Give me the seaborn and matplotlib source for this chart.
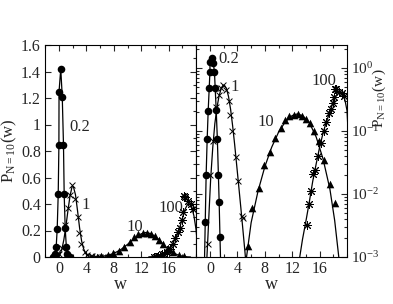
import numpy as np
import pandas as pd
import matplotlib
matplotlib.use("Agg")
import matplotlib.pyplot as plt
from matplotlib.ticker import MultipleLocator, FuncFormatter, LogLocator, LogFormatterMathtext, NullFormatter
import seaborn as sns

# ---------------- data ----------------
# series "0.2" (filled circles, joined by a line)
w_02 = [-0.87, -0.70, -0.57, -0.42, -0.27, -0.12, -0.02, 0.00, 0.25, 0.47, 0.65, 0.75, 0.90, 1.07, 1.22, 1.33, 1.45, 1.62]
p_02 = [0.0004, 0.0036, 0.020, 0.073, 0.21, 0.475, 0.845, 1.247, 1.42, 1.21, 0.845, 0.475, 0.216, 0.073, 0.020, 0.0075, 0.0021, 0.0004]

# series "1" (crosses) and its curve
w_1 = [-0.30, 0.00, 0.40, 0.85, 1.25, 1.60, 1.95, 2.40, 2.70, 2.90, 3.25, 3.75, 4.15, 4.65, 4.85, 5.40, 6.00, 6.60, 7.20, 7.80]
p_1 = [0.0016, 0.020, 0.068, 0.24, 0.37, 0.47, 0.54, 0.44, 0.30, 0.18, 0.10, 0.038, 0.016, 0.0045, 0.0042, 0.0008, 0.0003, 0.0001, 0.00005, 0.00002]
wc_1 = [-0.7, -0.5, -0.3, -0.1, 0.1, 0.4, 0.7, 1.0, 1.3, 1.6, 1.9, 2.1, 2.4, 2.7, 3.0, 3.3, 3.6, 3.9, 4.2, 4.5, 4.8, 5.1, 5.4, 5.8]
pc_1 = [0.0003, 0.0008, 0.0022, 0.0065, 0.018, 0.055, 0.13, 0.23, 0.35, 0.46, 0.53, 0.53, 0.47, 0.35, 0.22, 0.12, 0.06, 0.028, 0.013, 0.006, 0.0027, 0.0012, 0.0005, 0.00015]

# series "10" (triangles) and its curve
w_10 = [5.5, 6.2, 7.2, 7.9, 8.7, 9.5, 10.3, 11.0, 11.6, 12.2, 12.8, 13.4, 14.0, 14.6, 15.2, 15.9, 16.7, 17.5, 18.3]
p_10 = [0.0015, 0.0059, 0.0124, 0.029, 0.047, 0.077, 0.112, 0.148, 0.170, 0.180, 0.184, 0.174, 0.155, 0.132, 0.100, 0.070, 0.034, 0.0145, 0.0072]
wc_10 = [5.0, 5.33, 6.0, 7.0, 8.0, 9.0, 10.0, 11.0, 12.0, 12.7, 13.5, 14.5, 15.5, 16.5, 17.5, 18.2, 18.8, 19.2]
pc_10 = [0.0005, 0.001, 0.0035, 0.011, 0.027, 0.055, 0.095, 0.14, 0.175, 0.185, 0.175, 0.135, 0.08, 0.036, 0.012, 0.0038, 0.001, 0.0003]

# series "100" (stars) and its curve
w_100 = [13.8, 14.1, 14.4, 14.7, 15.1, 15.4, 15.8, 16.2, 16.6, 17.0, 17.4, 17.7, 17.9, 18.1, 18.25, 18.45, 18.9, 19.3, 19.6]
p_100 = [0.0008, 0.0032, 0.0068, 0.011, 0.021, 0.024, 0.040, 0.064, 0.10, 0.14, 0.19, 0.22, 0.28, 0.34, 0.46, 0.455, 0.42, 0.40, 0.36]
wc_100 = [13.1, 13.5, 14.0, 14.5, 15.0, 15.5, 16.0, 16.5, 17.0, 17.5, 18.0, 18.4, 18.8, 19.1, 19.4, 19.7, 20.0, 20.3]
pc_100 = [0.001, 0.0019, 0.0037, 0.0075, 0.016, 0.03, 0.055, 0.092, 0.14, 0.2, 0.29, 0.36, 0.40, 0.40, 0.37, 0.31, 0.21, 0.05]

x_ticks = [0, 4, 8, 12, 16]
labels = ["0.2", "1", "10", "100"]

# ---------------- style ----------------
sns.set_style("ticks")
plt.rcParams["font.family"] = ["Liberation Serif", "DejaVu Serif"]
plt.rcParams["mathtext.fontset"] = "stix"
plt.rcParams["axes.linewidth"] = 0.8

fig = plt.figure(figsize=(3.93, 3.04), dpi=100)
axL = fig.add_axes([45/393, 1-257/304, 151/393, 212/304])
axR = fig.add_axes([196/393, 1-257/304, 151/393, 212/304])

star = (8, 2, 0)

def draw(ax):
    sns.lineplot(x=w_02, y=p_02, ax=ax, color="k", lw=0.9, sort=False, estimator=None)
    sns.scatterplot(x=w_02, y=p_02, ax=ax, color="k", marker="o", s=30, edgecolor="k", linewidth=0, zorder=3)
    sns.lineplot(x=wc_1, y=pc_1, ax=ax, color="k", lw=0.9, sort=False, estimator=None)
    sns.scatterplot(x=w_1, y=p_1, ax=ax, color="k", marker="x", s=18, linewidth=0.7, zorder=3)
    sns.lineplot(x=wc_10, y=pc_10, ax=ax, color="k", lw=0.9, sort=False, estimator=None)
    sns.scatterplot(x=w_10, y=p_10, ax=ax, color="k", marker="^", s=30, edgecolor="k", linewidth=0, zorder=3)
    sns.lineplot(x=wc_100, y=pc_100, ax=ax, color="k", lw=0.9, sort=False, estimator=None)
    sns.scatterplot(x=w_100, y=p_100, ax=ax, color="k", marker=star, s=34, linewidth=0.7, zorder=3)
    ax.set_xlim(-2.05, 20.0)
    ax.xaxis.set_minor_locator(MultipleLocator(2))
    ax.set_xticks(x_ticks)
    ax.set_xlabel("w", fontsize=13, labelpad=-1)
    ax.tick_params(which="both", direction="in", top=True, bottom=True, left=True, right=True,
                   labelsize=11.5, width=0.8)
    ax.tick_params(which="major", length=4.5, pad=3)
    ax.tick_params(which="minor", length=2.5)
    for s in ax.spines.values():
        s.set_linewidth(0.8)
        s.set_color("k")

draw(axL)
axL.set_ylim(0, 1.6)
axL.yaxis.set_major_locator(MultipleLocator(0.2))
axL.yaxis.set_minor_locator(MultipleLocator(0.1))
axL.yaxis.set_major_formatter(FuncFormatter(lambda v, p: "%g" % round(v, 2)))
axL.set_ylabel(r"P$_{\mathregular{N=10}}$(w)", fontsize=12)
axL.yaxis.set_label_coords(-0.175, 0.5)
axL.tick_params(axis="y", which="minor", left=False)

draw(axR)
axR.set_yscale("log")
axR.set_ylim(1e-3, 2.3)
axR.yaxis.set_major_locator(LogLocator(base=10, numticks=10))
axR.yaxis.set_minor_locator(LogLocator(base=10, subs=np.arange(2, 10), numticks=10))
axR.yaxis.set_major_formatter(LogFormatterMathtext())
axR.yaxis.set_minor_formatter(NullFormatter())
axR.tick_params(axis="y", which="both", labelleft=False, labelright=True, labelsize=11)
axR.yaxis.set_label_position("right")
axR.set_ylabel(r"P$_{\mathregular{N=10}}$(w)", fontsize=11, rotation=90)
axR.yaxis.set_label_coords(1.155, 0.75)

# curve labels
tl = [(0.228, 0.613), (0.2715, 0.245), (0.596, 0.143), (0.833, 0.23)]
tr = [(0.214, 0.933), (0.258, 0.803), (0.4636, 0.635), (0.848, 0.829)]
for lab, (x, y) in zip(labels, tl):
    axL.text(x, y, lab, transform=axL.transAxes, ha="center", va="center", fontsize=12)
for lab, (x, y) in zip(labels, tr):
    axR.text(x, y, lab, transform=axR.transAxes, ha="center", va="center", fontsize=12)

fig.savefig("out.png", dpi=100)
